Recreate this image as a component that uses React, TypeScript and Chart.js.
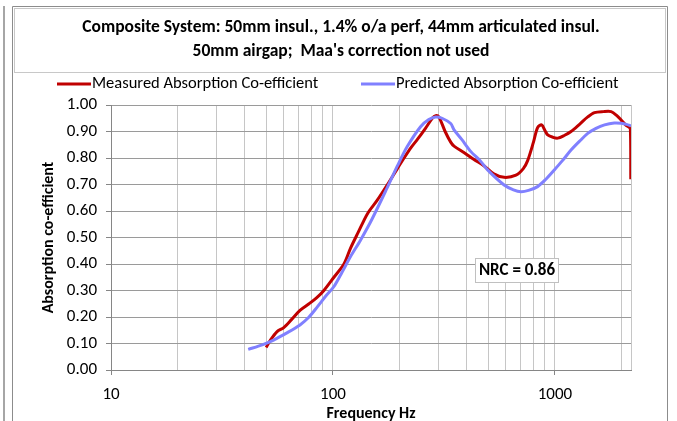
import React, { useEffect, useRef } from "react";
import { Chart, registerables } from "chart.js";

Chart.register(...registerables);

// Measured absorption co-efficient (frequency Hz, value)
const measuredFreq = [50, 52, 56, 60, 65, 71, 78, 85, 91, 101, 112, 120, 130, 143, 158, 176, 195, 209, 225, 240, 260, 280, 290, 300, 320, 339, 351, 390, 430, 480, 530, 590, 667, 720, 753, 800, 835, 871, 900, 927, 980, 1029, 1100, 1181, 1300, 1405, 1506, 1650, 1791, 1900, 1987, 2080, 2185, 2195];
const measuredAlpha = [0.085, 0.11, 0.145, 0.16, 0.19, 0.225, 0.25, 0.275, 0.3, 0.35, 0.4, 0.46, 0.52, 0.59, 0.64, 0.7, 0.76, 0.8, 0.84, 0.87, 0.91, 0.95, 0.96, 0.955, 0.9, 0.86, 0.845, 0.82, 0.795, 0.77, 0.74, 0.727, 0.735, 0.76, 0.79, 0.86, 0.915, 0.925, 0.905, 0.887, 0.878, 0.875, 0.885, 0.9, 0.93, 0.955, 0.971, 0.975, 0.975, 0.96, 0.943, 0.925, 0.91, 0.72];

// Predicted absorption co-efficient
const predictedFreq = [41.5, 48, 54, 62, 71, 78, 85, 93, 101, 110, 120, 133, 150, 176, 195, 216, 248, 270, 290, 310, 339, 351, 380, 418, 460, 497, 590, 650, 703, 760, 835, 910, 993, 1080, 1181, 1300, 1405, 1530, 1672, 1850, 1987, 2100, 2200];
const predictedAlpha = [0.078, 0.095, 0.113, 0.14, 0.17, 0.2, 0.238, 0.28, 0.315, 0.37, 0.428, 0.49, 0.57, 0.69, 0.77, 0.843, 0.918, 0.945, 0.955, 0.95, 0.93, 0.906, 0.87, 0.824, 0.79, 0.755, 0.698, 0.68, 0.673, 0.678, 0.692, 0.72, 0.755, 0.79, 0.83, 0.866, 0.893, 0.912, 0.925, 0.932, 0.931, 0.927, 0.921];

// Axis ticks
const xGridValues = [10, 20, 30, 40, 50, 60, 70, 80, 90, 100, 200, 300, 400, 500, 600, 700, 800, 900, 1000, 2000];
const xTickLabels = [10, 100, 1000];
const yTickValues = [0, 0.1, 0.2, 0.3, 0.4, 0.5, 0.6, 0.7, 0.8, 0.9, 1.0];

const titleLines = [
  "Composite System: 50mm insul., 1.4% o/a perf, 44mm articulated insul.",
  "50mm airgap;  Maa's correction not used",
];
const seriesNames = ["Measured Absorption Co-efficient", "Predicted Absorption Co-efficient"];
const seriesColors = ["#C00000", "#8080FF"];
const nrcText = "NRC = 0.86";
const xTitle = "Frequency Hz";
const yTitle = "Absorption co-efficient";

const FONT = "Carlito, 'Liberation Sans Narrow', Lato, sans-serif";

const decor = {
  id: "decor",
  beforeDraw(chart: any) {
    const ctx = chart.ctx;
    ctx.save();
    ctx.fillStyle = "#ffffff";
    ctx.fillRect(0, 0, chart.width, chart.height);

    // frame lines
    ctx.strokeStyle = "#a6a6a6";
    ctx.lineWidth = 2;
    ctx.beginPath();
    ctx.moveTo(4, 6);
    ctx.lineTo(4, chart.height);
    ctx.stroke();

    ctx.lineWidth = 1;
    ctx.strokeStyle = "#8c8c8c";
    ctx.beginPath();
    ctx.moveTo(12.5, chart.height);
    ctx.lineTo(12.5, 6.5);
    ctx.lineTo(667.5, 6.5);
    ctx.lineTo(667.5, chart.height);
    ctx.stroke();

    // title box
    ctx.strokeStyle = "#c8c8c8";
    ctx.strokeRect(14.5, 8.5, 651, 64);

    ctx.fillStyle = "#000";
    ctx.textAlign = "center";
    ctx.textBaseline = "middle";
    ctx.font = `bold 17.5px ${FONT}`;
    ctx.fillText(titleLines[0], 341, 28);
    ctx.fillText(titleLines[1], 341, 52);

    // legend
    ctx.font = `16.5px ${FONT}`;
    ctx.textAlign = "left";
    const legendX = [57, 361];
    seriesNames.forEach((name, i) => {
      ctx.strokeStyle = seriesColors[i];
      ctx.lineWidth = 3;
      ctx.beginPath();
      ctx.moveTo(legendX[i], 84);
      ctx.lineTo(legendX[i] + 34, 84);
      ctx.stroke();
      ctx.fillStyle = "#000";
      ctx.fillText(name, legendX[i] + 35, 84);
    });
    ctx.restore();
  },
  afterDraw(chart: any) {
    const ctx = chart.ctx;
    const { left, right, top, bottom } = chart.chartArea;
    ctx.save();
    // plot area right edge
    ctx.strokeStyle = "#c6c6c6";
    ctx.lineWidth = 1;
    ctx.beginPath();
    ctx.moveTo(Math.round(right) + 0.5, top);
    ctx.lineTo(Math.round(right) + 0.5, bottom);
    ctx.stroke();

    // axis titles
    ctx.fillStyle = "#000";
    ctx.font = `bold 16px ${FONT}`;
    ctx.textAlign = "center";
    ctx.textBaseline = "middle";
    ctx.fillText(xTitle, (left + right) / 2, 414);
    ctx.save();
    ctx.translate(49, (top + bottom) / 2);
    ctx.rotate(-Math.PI / 2);
    ctx.fillText(yTitle, 0, 0);
    ctx.restore();

    // NRC note
    ctx.fillStyle = "#fff";
    ctx.fillRect(475, 258, 83, 24);
    ctx.strokeStyle = "#c0c0c0";
    ctx.strokeRect(475.5, 258.5, 83, 24);
    ctx.fillStyle = "#000";
    ctx.font = `bold 17px ${FONT}`;
    ctx.fillText(nrcText, 517, 271);
    ctx.restore();
  },
};

export default function App() {
  const ref = useRef<HTMLCanvasElement>(null);

  useEffect(() => {
    if (!ref.current) return;
    const chart = new Chart(ref.current, {
      type: "line",
      data: {
        datasets: [
          {
            label: seriesNames[0],
            data: measuredFreq.map((f, i) => ({ x: f, y: measuredAlpha[i] })),
            borderColor: seriesColors[0],
            borderWidth: 3,
            pointRadius: 0,
            tension: 0.3,
            fill: false,
            order: 1,
          },
          {
            label: seriesNames[1],
            data: predictedFreq.map((f, i) => ({ x: f, y: predictedAlpha[i] })),
            borderColor: seriesColors[1],
            borderWidth: 3,
            pointRadius: 0,
            tension: 0.3,
            fill: false,
            order: 0,
          },
        ],
      },
      options: {
        responsive: false,
        animation: false,
        devicePixelRatio: 1,
        layout: { padding: { left: 0, top: 105, right: 46, bottom: 0 } },
        plugins: { legend: { display: false }, title: { display: false }, tooltip: { enabled: false } },
        scales: {
          x: {
            type: "logarithmic",
            min: 10,
            max: 2200,
            afterBuildTicks: (s: any) => {
              s.ticks = xGridValues.map((v) => ({ value: v }));
            },
            afterFit: (s: any) => {
              s.height = 51;
            },
            ticks: {
              autoSkip: false,
              maxRotation: 0,
              padding: 10,
              color: "#000",
              font: { family: FONT, size: 17 },
              callback: (v: any) => (xTickLabels.includes(Number(v)) ? String(v) : ""),
            },
            grid: {
              color: "#c6c6c6",
              tickLength: 5,
              tickColor: (c: any) => (c.tick && xTickLabels.includes(c.tick.value) ? "#868686" : "rgba(0,0,0,0)"),
            },
            border: { color: "#868686" },
          },
          y: {
            min: 0,
            max: 1,
            afterBuildTicks: (s: any) => {
              s.ticks = yTickValues.map((v) => ({ value: v }));
            },
            afterFit: (s: any) => {
              s.width = 111;
            },
            ticks: {
              padding: 9,
              color: "#000",
              font: { family: FONT, size: 17 },
              callback: (v: any) => Number(v).toFixed(2),
            },
            grid: { color: "#9a9a9a", tickLength: 5, tickColor: "#868686" },
            border: { color: "#868686" },
          },
        },
      },
      plugins: [decor],
    });
    return () => chart.destroy();
  }, []);

  return (
    <div style={{ position: "fixed", left: 0, top: 0, width: 677, height: 421, background: "#fff" }}>
      <canvas ref={ref} width={677} height={421} style={{ width: 677, height: 421, display: "block" }} />
    </div>
  );
}
